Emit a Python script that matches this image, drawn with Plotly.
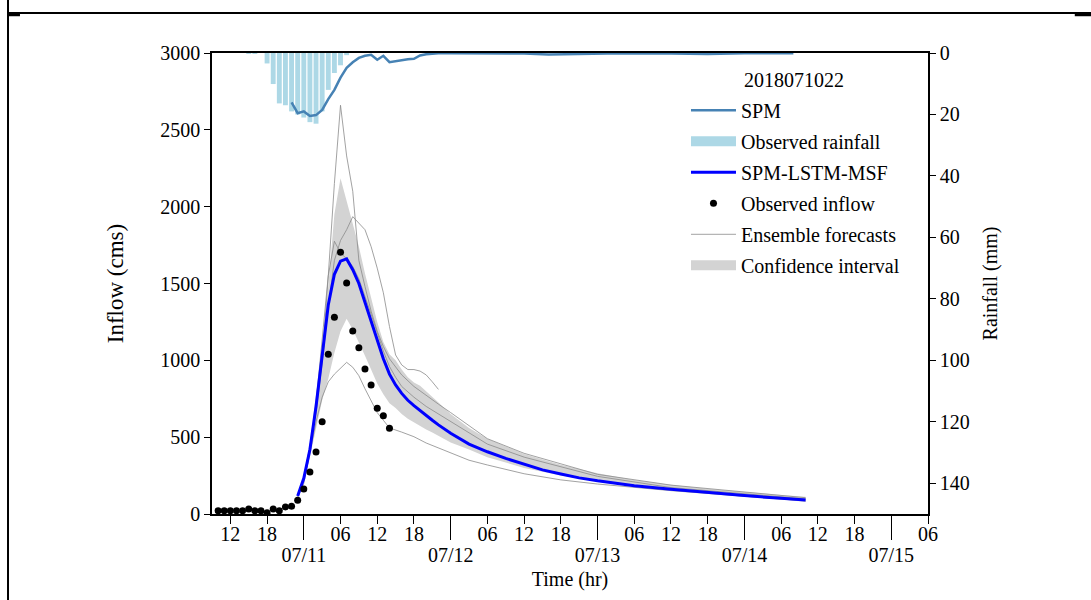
import pandas as pd
import plotly.graph_objects as go

SERIF = "Liberation Serif"
BASE = pd.Timestamp("2018-07-11 00:00")  # hours below are relative to 07/11 00:00


def when(hours):
    return [BASE + pd.Timedelta(hours=h) for h in hours]


# ---------------- data ----------------
# observed inflow (cms), hourly from 07/10 10:00 to 07/11 14:00
obs_hours = list(range(-14, 15))
obs_inflow = [21, 21, 21, 21, 21, 33, 21, 21, 8, 33, 21, 46, 50, 89,
              163, 273, 403, 600, 1039, 1280, 1703, 1503, 1191, 1082,
              944, 839, 688, 640, 558]

# observed hourly rainfall (mm), 07/10 15:00 to 07/11 07:00
rain_hours = list(range(-9, 8))
rain_mm = [0.3, 0.3, 0.0, 3.4, 10.1, 16.4, 17.0, 19.0, 20.0, 21.0,
           22.5, 23.0, 19.0, 12.0, 6.5, 4.0, 0.7]

# SPM (plotted on the rainfall axis)
spm_hours = [-2, -1, 0, 1, 2, 3, 4, 5, 6, 7, 8, 9, 10, 11, 12, 13, 14, 15,
             16, 17, 18, 19, 20, 21, 22, 24, 30, 36, 40, 46, 52, 60, 66, 72, 80]
spm_rain = [16.1, 19.6, 19.0, 20.5, 20.2, 18.5, 15.0, 12.0, 8.0, 4.8, 3.0,
            1.6, 0.9, 0.6, 2.2, 0.9, 3.0, 2.6, 2.3, 2.0, 1.9, 0.8, 0.4, 0.2,
            0.1, 0.1, 0.1, 0.2, 0.5, 0.3, 0.1, 0.2, 0.3, 0.1, 0.1]

# SPM-LSTM-MSF forecast (cms)
msf_hours = [-1, 0, 1, 2, 3, 4, 5, 6, 7, 8, 9, 10, 11, 12, 13, 14, 15, 16,
             17, 18, 19, 20, 21, 22, 23, 24, 27, 30, 33, 36, 39, 42, 45, 48,
             54, 60, 66, 72, 78, 82]
msf_inflow = [117, 232, 420, 700, 1030, 1360, 1560, 1645, 1660, 1590, 1500,
              1380, 1260, 1140, 1010, 910, 840, 785, 740, 705, 672, 640, 610,
              580, 553, 525, 455, 405, 362, 322, 287, 260, 235, 216, 184, 161,
              139, 120, 102, 91]

# confidence interval of the ensemble (cms)
ci_hours = [-1, 0, 1, 2, 3, 4, 5, 6, 7, 8, 9, 10, 11, 12, 13, 14, 15, 16, 17,
            18, 19, 20, 21, 22, 24, 27, 30, 36, 42, 48, 54, 60, 66, 72, 78, 82]
ci_upper = [125, 245, 460, 760, 1090, 1480, 1950, 2185, 2040, 1880, 1740,
            1565, 1400, 1250, 1120, 1040, 1000, 940, 890, 855, 835, 800, 760,
            725, 650, 560, 490, 390, 320, 265, 222, 190, 165, 143, 124, 112]
ci_lower = [110, 215, 370, 560, 740, 880, 1050, 1190, 1270, 1200, 1120, 1030,
            940, 850, 780, 720, 690, 650, 620, 595, 570, 550, 530, 510, 465,
            420, 370, 300, 250, 212, 180, 155, 133, 113, 96, 78]

# individual ensemble members (cms)
ens_a_hours = [0, 1, 2, 3, 4, 5, 6, 7, 8, 9, 10, 11, 12, 13, 14, 15, 16, 18,
               20, 22, 24, 30, 36, 48, 60, 72, 82]
ens_a = [240, 440, 700, 1000, 1550, 2150, 2660, 2330, 2100, 1650, 1480, 1320,
         1190, 1090, 1010, 955, 905, 830, 770, 715, 660, 490, 395, 258, 188,
         142, 106]
ens_b_hours = list(range(0, 23))
ens_b = [230, 420, 660, 980, 1350, 1650, 1780, 1850, 1935, 1890, 1850, 1740,
         1600, 1440, 1220, 1035, 970, 940, 940, 930, 905, 860, 811]
ens_c_hours = [0, 1, 2, 3, 4, 5, 6, 7, 8, 9, 10, 11, 12, 13, 14, 15, 16, 18,
               20, 22, 24, 30, 36, 48, 60, 72, 82]
ens_c = [220, 410, 720, 1150, 1550, 1775, 1700, 1660, 1610, 1530, 1420, 1300,
         1180, 1060, 960, 890, 830, 760, 700, 650, 600, 455, 370, 245, 172,
         132, 98]
ens_d_hours = [-1, 0, 1, 2, 3, 4, 5, 6, 7, 8, 9, 10, 11, 12, 13, 14, 16, 18,
               20, 22, 24, 27, 30, 36, 42, 48, 60, 72, 82]
ens_d = [110, 200, 400, 600, 760, 860, 910, 950, 987, 955, 900, 815, 740, 660,
         610, 560, 533, 503, 462, 430, 400, 350, 319, 262, 222, 195, 152, 115,
         85]
ensemble = [(ens_a_hours, ens_a), (ens_b_hours, ens_b),
            (ens_c_hours, ens_c), (ens_d_hours, ens_d)]

issue_label = "2018071022"
day_labels = ["07/11", "07/12", "07/13", "07/14", "07/15"]
x_start_hour, x_end_hour = -15, 102

RAIN_COLOR = "#add8e6"
CI_COLOR = "#d3d3d3"

# ---------------- figure ----------------
fig = go.Figure()

fig.add_trace(go.Scatter(x=when(ci_hours), y=ci_lower, mode="lines",
                         line=dict(width=0, color=CI_COLOR),
                         showlegend=False, hoverinfo="skip"))
fig.add_trace(go.Scatter(x=when(ci_hours), y=ci_upper, mode="lines",
                         line=dict(width=0, color=CI_COLOR),
                         fill="tonexty", fillcolor=CI_COLOR,
                         showlegend=False))

for i, (hrs, vals) in enumerate(ensemble):
    fig.add_trace(go.Scatter(x=when(hrs), y=vals, mode="lines",
                             line=dict(width=0.8, color="#8a8a8a"),
                             name="Ensemble forecasts", legendrank=5,
                             legendgroup="ens", showlegend=(i == 0)))

fig.add_trace(go.Scatter(x=when(msf_hours), y=msf_inflow, mode="lines",
                         line=dict(width=3, color="#0000ff"),
                         name="SPM-LSTM-MSF", legendrank=3,
                         legendgroup="msf"))

fig.add_trace(go.Scatter(x=when(obs_hours), y=obs_inflow, mode="markers",
                         marker=dict(size=7, color="black"),
                         name="Observed inflow", legendrank=4,
                         legendgroup="obs"))

fig.add_trace(go.Bar(x=when(rain_hours), y=rain_mm, yaxis="y2",
                     width=0.8 * 3600 * 1000,
                     marker=dict(color=RAIN_COLOR, line=dict(width=0)),
                     showlegend=False))

fig.add_trace(go.Scatter(x=when(spm_hours), y=spm_rain, yaxis="y2",
                         mode="lines", line=dict(width=2.5, color="#4682b4"),
                         name="SPM", legendrank=1, legendgroup="spm"))

# legend patches for the bar and band series
fig.add_trace(go.Scatter(x=[None], y=[None], mode="lines",
                         line=dict(width=15, color=RAIN_COLOR),
                         name="Observed rainfall", legendrank=2,
                         legendgroup="rain"))
fig.add_trace(go.Scatter(x=[None], y=[None], mode="lines",
                         line=dict(width=15, color=CI_COLOR),
                         name="Confidence interval", legendrank=6,
                         legendgroup="ci"))

# helper trace so the date axis is drawn
fig.add_trace(go.Scatter(x=when([x_start_hour]), y=[None], xaxis="x2",
                         showlegend=False, hoverinfo="skip"))

x_range = when([x_start_hour, x_end_hour])
minor_hours = [h for h in range(-12, x_end_hour + 1, 6) if h % 24 != 0]
minor_text = ["%02d" % (h % 24) for h in minor_hours]
day_hours = [24 * i for i in range(len(day_labels))]

tick_font = dict(family=SERIF, size=20, color="black")

fig.update_layout(
    width=1091, height=600,
    margin=dict(l=212, r=163, t=53, b=86, autoexpand=False),
    paper_bgcolor="white", plot_bgcolor="white",
    font=dict(family=SERIF, size=20, color="black"),
    barmode="overlay",
    xaxis=dict(type="date", range=x_range, showgrid=False, zeroline=False,
               showline=True, linecolor="black", linewidth=1.5, mirror=True,
               tickmode="array", tickvals=when(minor_hours),
               ticktext=minor_text, ticks="outside", ticklen=8,
               tickwidth=1.2, tickcolor="black", tickfont=tick_font,
               ticklabelstandoff=-7),
    xaxis2=dict(type="date", range=x_range, overlaying="x", anchor="y",
                side="bottom", showgrid=False, zeroline=False,
                showline=False, tickmode="array", tickvals=when(day_hours),
                ticktext=day_labels, ticks="outside", ticklen=25,
                tickwidth=1.2, tickcolor="black", tickfont=tick_font,
                ticklabelstandoff=-2,
                title=dict(text="Time (hr)", font=tick_font, standoff=6)),
    yaxis=dict(range=[0, 3000], tickvals=[0, 500, 1000, 1500, 2000, 2500, 3000],
               showgrid=False, zeroline=False, showline=True,
               linecolor="black", linewidth=1.5, ticks="outside", ticklen=6,
               tickwidth=1.2, tickcolor="black", tickfont=tick_font,
               title=dict(text="Inflow (cms)",
                          font=dict(family=SERIF, size=23, color="black"),
                          standoff=30)),
    yaxis2=dict(range=[150, 0], overlaying="y", side="right", anchor="x",
                tickvals=[0, 20, 40, 60, 80, 100, 120, 140],
                showgrid=False, zeroline=False, showline=True,
                linecolor="black", linewidth=1.5, ticks="outside", ticklen=6,
                tickwidth=1.2, tickcolor="black", tickfont=tick_font,
                title=dict(text="Rainfall (mm)",
                           font=dict(family=SERIF, size=20, color="black"),
                           standoff=14)),
    legend=dict(x=0.662, y=0.918, xanchor="left", yanchor="top",
                bgcolor="rgba(0,0,0,0)", font=dict(family=SERIF, size=20),
                traceorder="grouped", itemwidth=45, tracegroupgap=2),
    annotations=[dict(text=issue_label, x=0.740, y=0.941, xref="paper",
                      yref="paper", xanchor="left", yanchor="middle",
                      showarrow=False, font=dict(family=SERIF, size=20))],
    shapes=[
        dict(type="line", xref="paper", yref="paper", x0=-0.2849, x1=-0.2849,
             y0=-0.19, y1=1.12, line=dict(color="black", width=2)),
        dict(type="line", xref="paper", yref="paper", x0=-0.2849, x1=1.23,
             y0=1.0868, y1=1.0868, line=dict(color="black", width=2)),
        dict(type="line", xref="paper", yref="paper", x0=-0.2849, x1=-0.2682,
             y0=1.083, y1=1.083, line=dict(color="black", width=3)),
        dict(type="line", xref="paper", yref="paper", x0=1.205, x1=1.23,
             y0=1.083, y1=1.083, line=dict(color="black", width=3)),
    ],
)

fig.write_html("out.html")
